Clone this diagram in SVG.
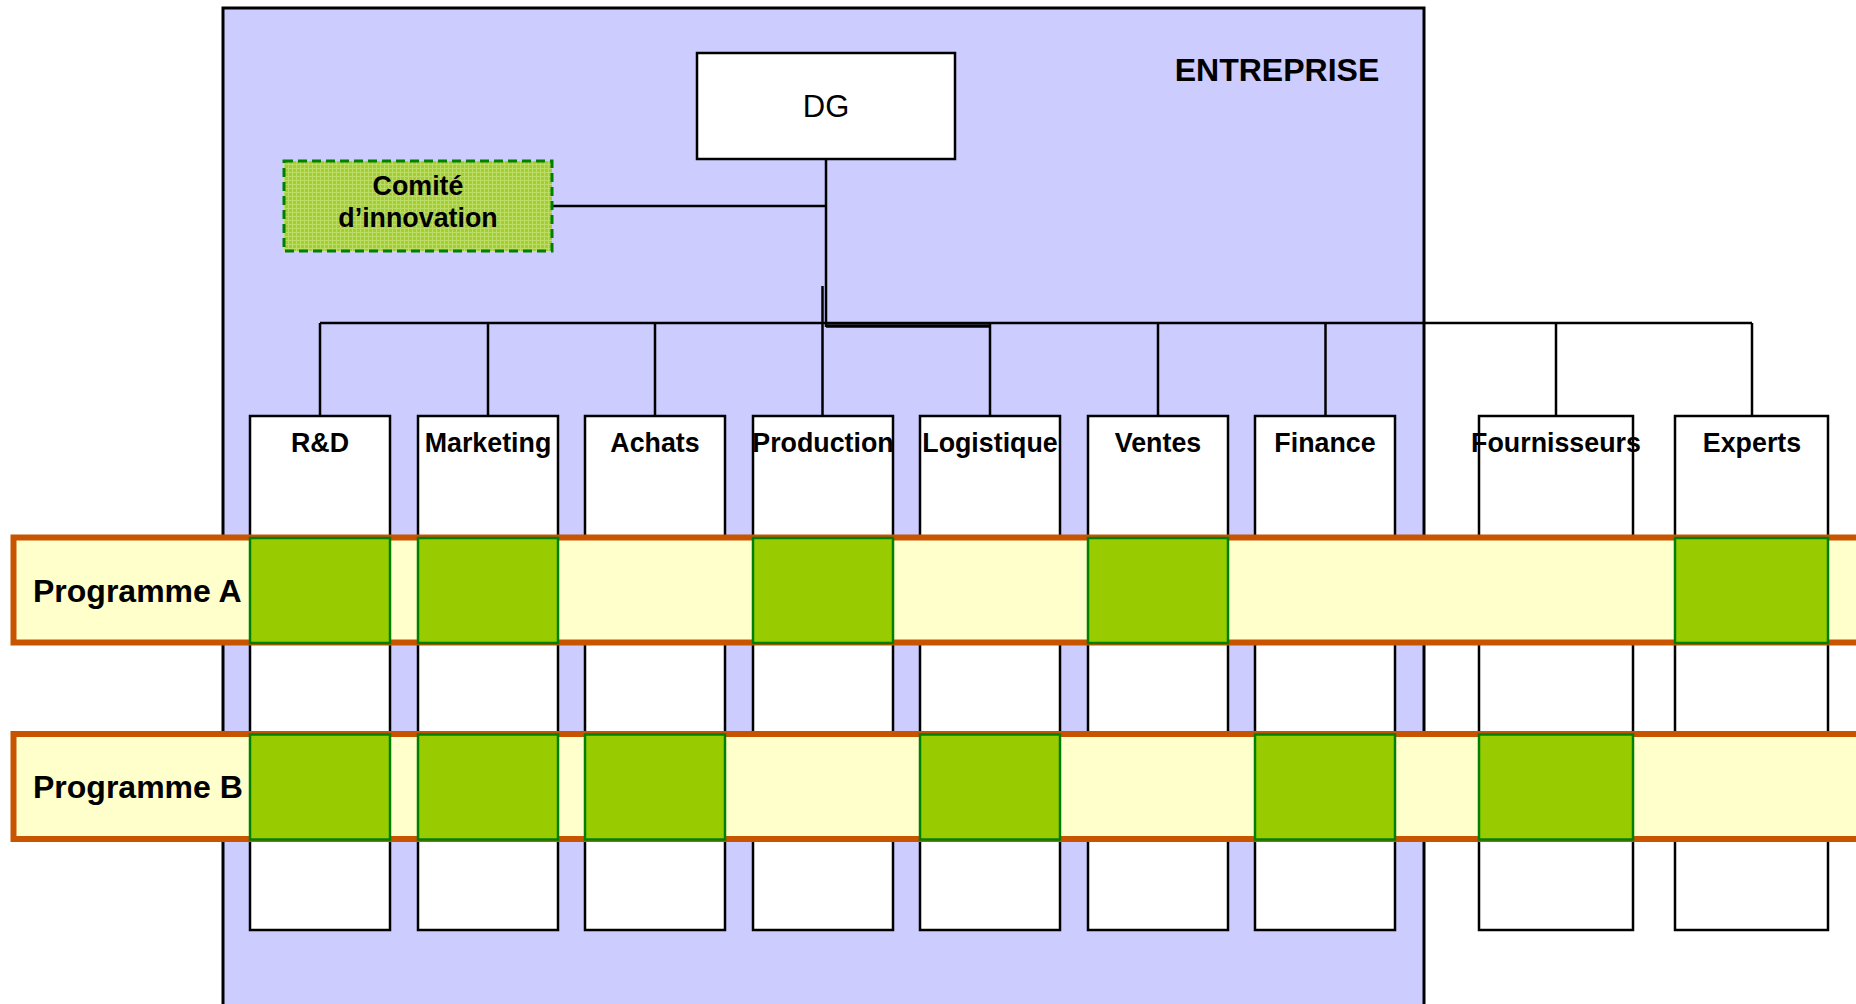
<svg xmlns="http://www.w3.org/2000/svg" width="1856" height="1004" viewBox="0 0 1856 1004">
<style>
  .dept{fill:#FFFFFF;stroke:#000000;stroke-width:2.5}
  .lbl{font-family:"Liberation Sans",Arial,sans-serif;font-weight:bold;font-size:26.8px;text-anchor:middle;fill:#000000}
  .band{fill:#FFFFCC;stroke:#C85400;stroke-width:6}
  .cell{fill:#99CC00;stroke:#008000;stroke-width:2.5}
  .prog{font-family:"Liberation Sans",Arial,sans-serif;font-weight:bold;font-size:32px;fill:#000000}
  .conn line{stroke:#000000;stroke-width:2.5}
</style>
<defs>
  <pattern id="hatch" width="4" height="4" patternUnits="userSpaceOnUse">
    <rect width="4" height="4" fill="#A2CF2E"/>
    <path d="M0 0.5H4M0.5 0V4" stroke="#BBDD66" stroke-width="1"/>
  </pattern>
</defs>
<rect width="1856" height="1004" fill="#FFFFFF"/>
<g id="entreprise">
  <rect x="223" y="8" width="1201" height="1010" fill="#CCCCFF" stroke="#000000" stroke-width="3"/>
  <text x="1277" y="81" style="font-family:'Liberation Sans',Arial,sans-serif;font-weight:bold;font-size:32px;text-anchor:middle">ENTREPRISE</text>
</g>
<g id="connectors" class="conn">
  <line x1="826" y1="159" x2="826" y2="327"/>
  <line x1="553" y1="206" x2="826" y2="206"/>
  <line x1="822.5" y1="286" x2="822.5" y2="416"/>
  <line x1="320" y1="323" x2="1752" y2="323"/>
  <line x1="826" y1="326" x2="990" y2="326" style="stroke-width:3.5"/>
  <line x1="320" y1="323" x2="320" y2="416"/>
  <line x1="488" y1="323" x2="488" y2="416"/>
  <line x1="655" y1="323" x2="655" y2="416"/>
  <line x1="990" y1="323" x2="990" y2="416"/>
  <line x1="1158" y1="323" x2="1158" y2="416"/>
  <line x1="1325.5" y1="323" x2="1325.5" y2="416"/>
  <line x1="1556" y1="323" x2="1556" y2="416"/>
  <line x1="1752" y1="323" x2="1752" y2="416"/>
</g>
<g id="dg">
  <rect x="697" y="53" width="258" height="106" fill="#FFFFFF" stroke="#000000" stroke-width="2.5"/>
  <text x="826" y="117" style="font-family:'Liberation Sans',Arial,sans-serif;font-size:31px;text-anchor:middle">DG</text>
</g>
<g id="comite">
  <rect x="284" y="161" width="268" height="90" fill="url(#hatch)" stroke="#008000" stroke-width="3" stroke-dasharray="9,5"/>
  <text x="418" y="195" class="lbl">Comité</text>
  <text x="418" y="227" class="lbl">d’innovation</text>
</g>
<g id="departements">
  <g id="rd"><rect class="dept" x="250" y="416" width="140" height="514"/><text class="lbl" x="320" y="452">R&amp;D</text></g>
  <g id="marketing"><rect class="dept" x="418" y="416" width="140" height="514"/><text class="lbl" x="488" y="452">Marketing</text></g>
  <g id="achats"><rect class="dept" x="585" y="416" width="140" height="514"/><text class="lbl" x="655" y="452">Achats</text></g>
  <g id="production"><rect class="dept" x="753" y="416" width="140" height="514"/><text class="lbl" x="823" y="452">Production</text></g>
  <g id="logistique"><rect class="dept" x="920" y="416" width="140" height="514"/><text class="lbl" x="990" y="452">Logistique</text></g>
  <g id="ventes"><rect class="dept" x="1088" y="416" width="140" height="514"/><text class="lbl" x="1158" y="452">Ventes</text></g>
  <g id="finance"><rect class="dept" x="1255" y="416" width="140" height="514"/><text class="lbl" x="1325" y="452">Finance</text></g>
  <g id="fournisseurs"><rect class="dept" x="1479" y="416" width="154" height="514"/><text class="lbl" x="1556" y="452">Fournisseurs</text></g>
  <g id="experts"><rect class="dept" x="1675" y="416" width="153" height="514"/><text class="lbl" x="1752" y="452">Experts</text></g>
</g>
<g id="programme-a">
  <rect class="band" x="13.5" y="537.5" width="1850" height="105"/>
  <rect class="cell" x="250" y="538" width="140" height="105"/>
  <rect class="cell" x="418" y="538" width="140" height="105"/>
  <rect class="cell" x="753" y="538" width="140" height="105"/>
  <rect class="cell" x="1088" y="538" width="140" height="105"/>
  <rect class="cell" x="1675" y="538" width="153" height="105"/>
  <text class="prog" x="33" y="602">Programme A</text>
</g>
<g id="programme-b">
  <rect class="band" x="13.5" y="734" width="1850" height="105"/>
  <rect class="cell" x="250" y="734.5" width="140" height="105"/>
  <rect class="cell" x="418" y="734.5" width="140" height="105"/>
  <rect class="cell" x="585" y="734.5" width="140" height="105"/>
  <rect class="cell" x="920" y="734.5" width="140" height="105"/>
  <rect class="cell" x="1255" y="734.5" width="140" height="105"/>
  <rect class="cell" x="1479" y="734.5" width="154" height="105"/>
  <text class="prog" x="33" y="798">Programme B</text>
</g>
</svg>
